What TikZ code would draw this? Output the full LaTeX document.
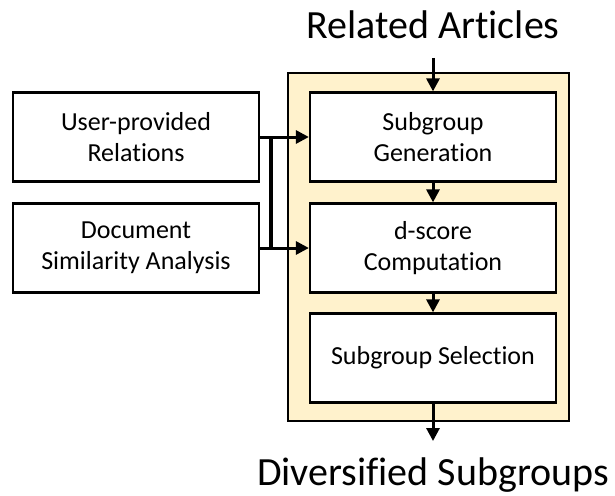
\documentclass[tikz,border=0pt]{standalone}
\usepackage{fontspec}
\setmainfont{Carlito}[Ligatures=CommonOff]
\usetikzlibrary{arrows.meta}
\definecolor{panelfill}{HTML}{FFF2CC}
\tikzset{
  stepbox/.style={draw=black, line width=2.25pt, fill=white, minimum width=246pt,
    minimum height=89pt, align=center, font=\fontsize{26}{31}\selectfont, inner sep=0pt},
  flow/.style={line width=3pt, -{Triangle[length=13pt,width=13pt]}},
  link/.style={line width=3.5pt},
  heading/.style={font=\fontsize{40}{48}\selectfont, anchor=base, inner sep=0pt}
}
\begin{document}
\begin{tikzpicture}[x=1pt,y=-1pt]
  \useasboundingbox (0,0) rectangle (615,495);
  % pipeline panel
  \node[draw=black, line width=1.75pt, fill=panelfill, minimum width=281pt,
        minimum height=348pt, inner sep=0pt] (panel) at (428.5,247) {};
  % pipeline steps
  \node[stepbox] (gen) at (433,137) {Subgroup\\Generation};
  \node[stepbox] (dsc) at (433,248) {d-score\\Computation};
  \node[stepbox] (sel) at (433,358) {Subgroup Selection};
  % inputs
  \node[stepbox] (user) at (136,137) {User-provided\\Relations};
  \node[stepbox] (doc) at (136,248) {Document\\Similarity Analysis};
  % titles
  \node[heading] (rel) at (433,39) {Related Articles};
  \node[heading] (div) at (433,485) {Diversified Subgroups};
  \coordinate (top) at (433,58);
  \coordinate (bot) at (433,441);
  % flow through the pipeline
  \draw[flow] (top) -- (gen.north);
  \draw[flow] (gen.south) -- (dsc.north);
  \draw[flow] (dsc.south) -- (sel.north);
  \draw[flow] (sel.south) -- (bot);
  % inputs feeding both first steps
  \draw[flow] (user.east) -- (gen.west);
  \draw[flow] (doc.east) -- (dsc.west);
  \coordinate (j1) at (271,137);
  \coordinate (j2) at (271,248);
  \draw[link] (j1) -- (j2);
\end{tikzpicture}
\end{document}
